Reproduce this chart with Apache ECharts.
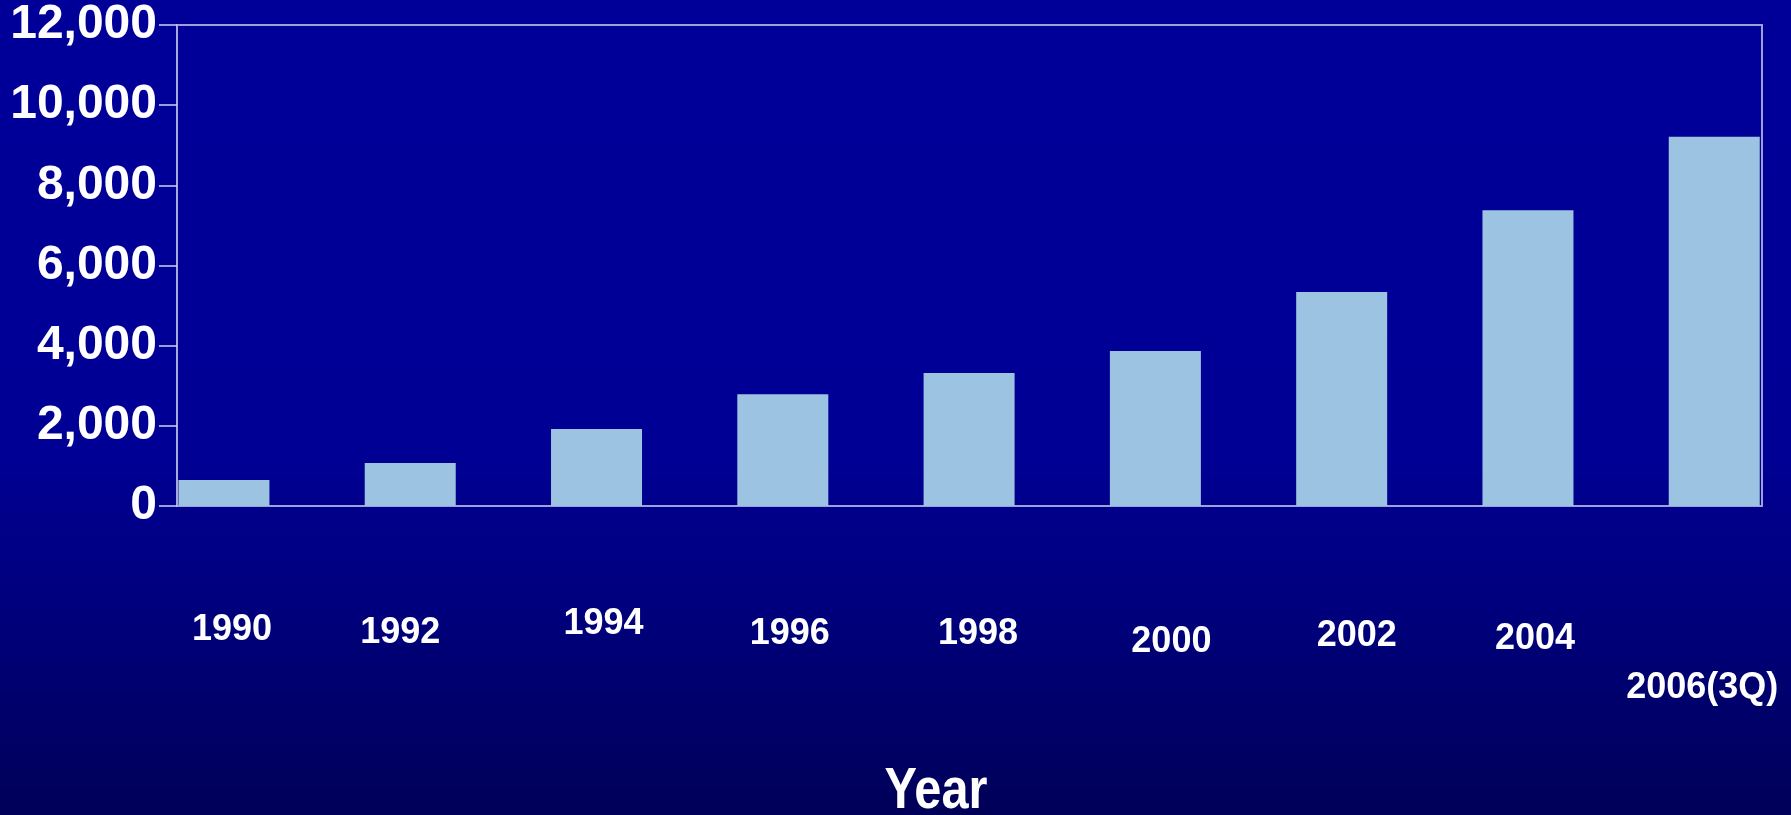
<!DOCTYPE html>
<html>
<head>
<meta charset="utf-8">
<script src="https://cdn.jsdelivr.net/npm/echarts@6/dist/echarts.min.js"></script>
<style>
  html, body { margin: 0; padding: 0; background: #000080; }
  #chart { width: 1791px; height: 815px; }
</style>
</head>
<body>
<div id="chart"></div>
<script>
// ---- data ----
const categories = ['1990', '1992', '1994', '1996', '1998', '2000', '2002', '2004', '2006(3Q)'];
const values = [650, 1070, 1920, 2790, 3320, 3870, 5340, 7380, 9210];
const yMin = 0;
const yMax = 12000;
const yStep = 2000;
const axisTitle = 'Year';

// ---- label placement style (hand-placed labels in the original) ----
const labelShift = [[8, 6], [-10, 9], [7, 0], [7, 10], [9, 10], [16, 18], [15, 12], [7, 15], [-12, 64]];

const FONT = "'Liberation Sans', Arial, sans-serif";
const rich = {};
labelShift.forEach(function (s, i) {
  const dx = s[0], dy = s[1];
  rich['a' + i] = {
    color: '#ffffff',
    fontFamily: FONT,
    fontWeight: 'bold',
    fontSize: 36,
    lineHeight: 36,
    padding: [2 * dy, dx < 0 ? -2 * dx : 0, 0, dx > 0 ? 2 * dx : 0]
  };
});

const chart = echarts.init(document.getElementById('chart'), null, { renderer: 'canvas' });
chart.setOption({
  animation: false,
  backgroundColor: {
    type: 'linear', x: 0, y: 0, x2: 0, y2: 1,
    colorStops: [
      { offset: 0, color: '#000099' },
      { offset: 0.55, color: '#000095' },
      { offset: 0.75, color: '#00007c' },
      { offset: 1, color: '#000058' }
    ]
  },
  grid: [
    { left: 177, top: 25, width: 1585, height: 481, show: true, borderColor: '#a0a0d8', borderWidth: 2, backgroundColor: 'transparent', containLabel: false, outerBoundsMode: 'none' },
    { left: 130.8, top: 25, width: 1676.6, height: 481, show: false, containLabel: false, outerBoundsMode: 'none' }
  ],
  xAxis: [
    { gridIndex: 0, type: 'value', show: false, min: 0, max: 1 },
    {
      gridIndex: 1, type: 'category', data: categories,
      axisLine: { show: false }, axisTick: { show: false },
      axisLabel: {
        interval: 0, margin: 100, hideOverlap: false,
        formatter: function (v, i) { return '{a' + i + '|' + v + '}'; },
        rich: rich
      }
    }
  ],
  yAxis: [
    {
      gridIndex: 0, type: 'value', min: yMin, max: yMax, interval: yStep,
      splitLine: { show: false },
      axisLine: { show: true, lineStyle: { color: '#a8a8dc', width: 2 } },
      axisTick: { show: true, length: 18, lineStyle: { color: '#d0d0f0', width: 1.5 } },
      axisLabel: {
        margin: 20, color: '#ffffff', fontFamily: FONT, fontWeight: 'bold', fontSize: 48,
        formatter: function (v) { return v.toLocaleString('en-US'); }
      }
    },
    { gridIndex: 1, type: 'value', min: yMin, max: yMax, interval: yStep, show: false, splitLine: { show: false } }
  ],
  graphic: [
    {
      type: 'text', x: 936, y: 792, scaleX: 0.84,
      style: {
        text: axisTitle, fill: '#ffffff', font: 'bold 58px ' + FONT,
        textAlign: 'center', textVerticalAlign: 'middle'
      }
    }
  ],
  series: [
    {
      type: 'bar', xAxisIndex: 1, yAxisIndex: 1,
      data: values, barWidth: 91,
      itemStyle: { color: '#9dc3e2' },
      z: 3
    }
  ]
});
</script>
</body>
</html>
